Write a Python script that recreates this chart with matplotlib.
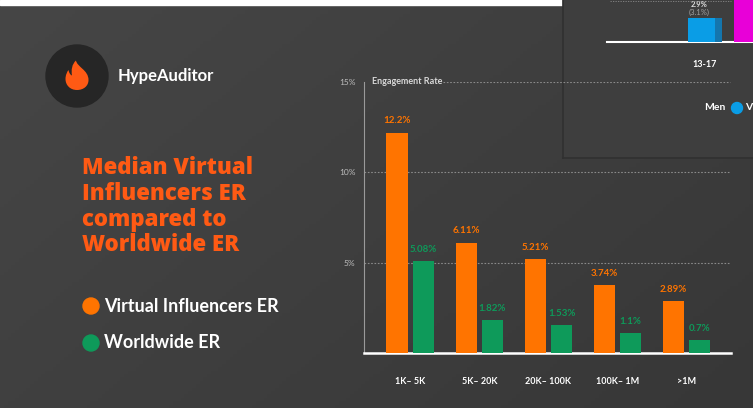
import numpy as np
import matplotlib
matplotlib.use("Agg")
import matplotlib.pyplot as plt
from matplotlib.patches import Circle, Rectangle, PathPatch
from matplotlib.path import Path

# ---------------- data ----------------
categories = ["1K– 5K", "5K– 20K", "20K– 100K", "100K– 1M", ">1M"]
virtual_er = [12.2, 6.11, 5.21, 3.74, 2.89]
worldwide_er = [5.08, 1.82, 1.53, 1.1, 0.7]
virtual_labels = ["12.2%", "6.11%", "5.21%", "3.74%", "2.89%"]
worldwide_labels = ["5.08%", "1.82%", "1.53%", "1.1%", "0.7%"]
y_ticks = [5, 10, 15]
y_tick_labels = ["5%", "10%", "15%"]

# fragment of an overlapping chart (top right)
overlay_cats = ["13-17"]
overlay_men = [2.9]
overlay_other = [5.0]

ORANGE = "#ff7400"
GREEN = "#0e9a5a"
TITLE = "#ff5a14"
W, H = 753, 408

plt.rcParams["font.family"] = ["Lato", "DejaVu Sans"]

fig = plt.figure(figsize=(W / 100, H / 100), dpi=100)

def fx(x):
    return x / W

def fy(y):
    return 1 - y / H

# background gradient
bg = fig.add_axes([0, 0, 1, 1])
bg.set_axis_off()
gx, gy = np.meshgrid(np.linspace(0, 1, 200), np.linspace(0, 1, 120))
grad = 0.6 * gx + 0.4 * gy
bg.imshow(grad, cmap=matplotlib.colors.LinearSegmentedColormap.from_list(
    "g", ["#464646", "#373737"]), extent=[0, W, H, 0], aspect="auto")
bg.set_xlim(0, W)
bg.set_ylim(H, 0)
bg.add_patch(Rectangle((0, 0), 563, 5, color="white", zorder=2))
bg.add_patch(Rectangle((563, 0), W - 563, 158, color="#3e3e3e", zorder=2))
bg.plot([563, 563], [0, 158], color="#303030", lw=1.2, zorder=3)
bg.plot([563, W], [158, 158], color="#303030", lw=1.2, zorder=3)

# logo
bg.add_patch(Circle((77, 76), 31, color="#262626", zorder=3))
flame = Path([(77, 90),
              (70, 90), (65.5, 85), (65.5, 79),
              (65.5, 75), (67, 72), (68.5, 70),
              (69, 73), (70.5, 75), (72, 75.5),
              (71, 70), (72, 64), (76, 60.5),
              (77, 67), (88.5, 70), (88.5, 80),
              (88.5, 86), (83.5, 90), (77, 90),
              (77, 90)],
             [Path.MOVETO] + [Path.CURVE4] * 18 + [Path.CLOSEPOLY])
bg.add_patch(PathPatch(flame, facecolor="#ff5a14", edgecolor="none", zorder=4))
bg.text(118, 76, "HypeAuditor", color="white", fontsize=12, fontweight="bold",
        va="center", ha="left", zorder=4)

# title
bg.text(82, 156, "Median Virtual\nInfluencers ER\ncompared to\nWorldwide ER",
        color=TITLE, fontsize=16, fontweight=800, family=["Open Sans", "DejaVu Sans"],
        va="top", ha="left", linespacing=1.1, zorder=4)

# legend
for yy, col, lab in [(306, ORANGE, "Virtual Influencers ER"), (343, GREEN, "Worldwide ER")]:
    bg.add_patch(Circle((91, yy), 8, color=col, zorder=4))
    bg.text(104, yy, lab, color="white", fontsize=13, fontweight="bold",
            va="center", ha="left", zorder=4)

# ---------------- main chart ----------------
ax = fig.add_axes([fx(364), fy(353), fx(731) - fx(364), fy(82) - fy(353)])
ax.set_facecolor("none")
n = len(categories)
x = np.arange(n)
bw = 0.305
off = 0.19
x0, x1 = -0.667, n - 1 + 0.64
ax.bar(x - off, virtual_er, width=bw, color=ORANGE, zorder=3)
ax.bar(x + off, worldwide_er, width=bw, color=GREEN, zorder=3)
ax.set_xlim(x0, x1)
ax.set_ylim(0, 15)
ax.autoscale(False)
for i in range(n):
    ax.text(x[i] - off, virtual_er[i] + 0.4, virtual_labels[i], color=ORANGE,
            fontsize=7, fontweight="bold", ha="center", va="bottom")
    ax.text(x[i] + off, worldwide_er[i] + 0.4, worldwide_labels[i], color=GREEN,
            fontsize=7, fontweight="bold", ha="center", va="bottom")
for t in y_ticks[:-1]:
    ax.plot([x0, x1 - 0.02], [t, t], color="#8a8a8a", lw=0.8, ls=(0, (1.5, 1.5)), zorder=1)
ax.plot([0.48, x1 - 0.02], [15, 15], color="#8a8a8a", lw=0.8, ls=(0, (1.5, 1.5)), zorder=1)
ax.text(-0.55, 15, "Engagement Rate", color="#d8d8d8", fontsize=6.5,
        fontweight="bold", va="center", ha="left")
for s in ["top", "right"]:
    ax.spines[s].set_visible(False)
ax.spines["left"].set_color("#9a9a9a")
ax.spines["left"].set_linewidth(0.8)
ax.spines["bottom"].set_color("white")
ax.spines["bottom"].set_linewidth(1.8)
ax.set_yticks(y_ticks)
ax.set_yticklabels(y_tick_labels)
ax.tick_params(axis="y", length=0, pad=6, labelcolor="#bdbdbd", labelsize=6)
ax.set_xticks(x)
ax.set_xticklabels(categories)
ax.tick_params(axis="x", length=0, pad=17, labelcolor="white", labelsize=6.5)
for lbl in ax.get_xticklabels():
    lbl.set_fontweight("bold")

# ---------------- overlay fragment ----------------
ax2 = fig.add_axes([fx(607), fy(42), fx(W) - fx(607), fy(0) - fy(42)])
ax2.set_facecolor("none")
ax2.set_xlim(-1.8, 0.9)
ax2.set_ylim(0, 5.0)
ax2.bar([-0.3], overlay_men, width=0.5, color="#0a9de6", align="edge", zorder=3)
ax2.bar([0.2], overlay_men, width=0.13, color="#1476ad", align="edge", zorder=3)
ax2.bar([0.55], overlay_other, width=0.6, color="#e800d8", align="edge", zorder=3)
ax2.plot([-1.75, 0.5], [4.85, 4.85], color="#8a8a8a", lw=0.6, ls=(0, (1.5, 1.5)), zorder=1)
for s in ["top", "right", "left"]:
    ax2.spines[s].set_visible(False)
ax2.spines["bottom"].set_color("white")
ax2.spines["bottom"].set_linewidth(1.5)
ax2.set_yticks([])
ax2.set_xticks([0.0])
ax2.set_xticklabels(overlay_cats)
ax2.tick_params(axis="x", length=0, pad=13, labelcolor="white", labelsize=6.5)
for lbl in ax2.get_xticklabels():
    lbl.set_fontweight("bold")
bg.text(699, 12.5, "(3.1%)", color="#a0a0a0", fontsize=5.5, ha="center", va="center", zorder=4)
bg.text(699, 1, "2.9%", color="#e0e0e0", fontsize=5.5, fontweight="bold",
        ha="center", va="top", zorder=4)
bg.text(726, 108, "Men", color="white", fontsize=7.5, fontweight="bold",
        ha="right", va="center", zorder=4)
bg.add_patch(Circle((737, 108), 5.5, color="#0a9de6", zorder=4))
bg.text(745, 108, "V", color="white", fontsize=7.5, fontweight="bold",
        ha="left", va="center", zorder=4)

fig.savefig("out.png", dpi=100)
